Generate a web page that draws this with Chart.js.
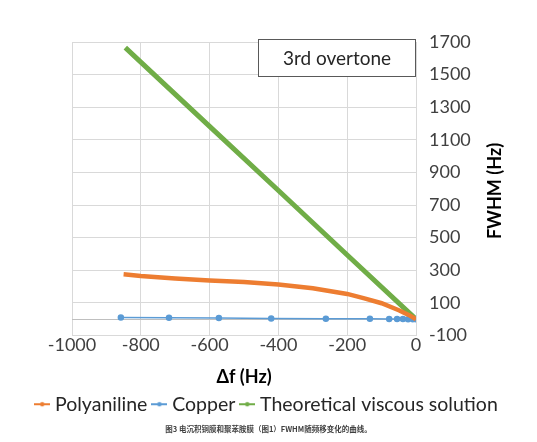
<!DOCTYPE html>
<html><head><meta charset="utf-8">
<script src="https://cdn.jsdelivr.net/npm/chart.js@4"></script>
<style>
html,body{margin:0;padding:0;background:#fff;}
#wrap{position:relative;width:537px;height:442px;}
#cap{position:absolute;left:0;width:537px;top:423px;text-align:center;font:bold 7.5px "Noto Sans CJK SC",sans-serif;color:#404040;}
</style></head><body>
<div id="wrap"><canvas id="c" width="537" height="442"></canvas>
<div id="cap">图3 电沉积铜膜和聚苯胺膜（图1）FWHM随频移变化的曲线。</div></div>
<script>
// Data
const polyanilineDf   = [-850,-800,-700,-600,-500,-400,-300,-200,-150,-100,-50,-20,0];
const polyanilineFwhm = [275, 265, 250, 238, 228, 213, 190, 155, 128, 98, 55, 25, 0];
const copperDf   = [-858,-718,-573,-421,-262,-134,-78,-55,-38,-23,-9,0];
const copperFwhm = [10, 9, 7, 5, 3, 2, 1, 1, 1, 0, 0, 0];
const theoryDf   = [-845,-800,-600,-400,-200,0];
const theoryFwhm = [1665,1577,1183,789,394,0];
const xTicks = [-1000,-800,-600,-400,-200,0];
const yTicks = [-100,100,300,500,700,900,1100,1300,1500,1700];
const seriesNames = ['Polyaniline','Copper','Theoretical viscous solution'];
const colors = ['#ED7D31','#5B9BD5','#70AD47'];
const FONT = 'Lato, "Open Sans", sans-serif';

const toPts = (xs, ys) => xs.map((x,i)=>({x, y: ys[i]}));

function legendIcon(color){
  const c = document.createElement('canvas');
  c.width = 16; c.height = 10;
  const g = c.getContext('2d');
  g.strokeStyle = color; g.lineWidth = 2;
  g.beginPath(); g.moveTo(0,5); g.lineTo(16,5); g.stroke();
  g.fillStyle = color; g.beginPath(); g.arc(8,5,2.2,0,Math.PI*2); g.fill();
  return c;
}
const icons = colors.map(legendIcon);

const extras = {
  id: 'extras',
  beforeDatasetsDraw(chart){
    const {ctx, chartArea:a, scales:{y}} = chart;
    const y0 = y.getPixelForValue(0);
    ctx.save();
    ctx.strokeStyle = '#bfbfbf'; ctx.lineWidth = 1;
    ctx.beginPath(); ctx.moveTo(a.left, Math.round(y0)+0.5); ctx.lineTo(a.right, Math.round(y0)+0.5); ctx.stroke();
    ctx.restore();
  },
  afterDraw(chart){
    const {ctx} = chart;
    ctx.save();
    ctx.fillStyle = '#fff';
    ctx.fillRect(258.5, 39.5, 157, 37);
    ctx.strokeStyle = '#595959'; ctx.lineWidth = 1;
    ctx.strokeRect(258.5, 39.5, 157, 37);
    ctx.fillStyle = '#262626';
    ctx.font = '19px ' + FONT;
    ctx.textAlign = 'center'; ctx.textBaseline = 'middle';
    ctx.fillText('3rd overtone', 337, 58.5);
    ctx.translate(495, 191);
    ctx.rotate(-Math.PI/2);
    ctx.font = 'bold 18px ' + FONT;
    ctx.fillStyle = '#000';
    ctx.fillText('FWHM (Hz)', 0, 0);
    ctx.restore();
  }
};

new Chart(document.getElementById('c'), {
  type: 'scatter',
  data: {
    datasets: [
      {label: seriesNames[0], data: toPts(polyanilineDf, polyanilineFwhm), showLine: true,
       borderColor: colors[0], backgroundColor: colors[0], borderWidth: 4.5, pointRadius: 0},
      {label: seriesNames[1], data: toPts(copperDf, copperFwhm), showLine: true,
       borderColor: colors[1], backgroundColor: colors[1], borderWidth: 1.5, pointRadius: 2.5, pointStyle: 'circle'},
      {label: seriesNames[2], data: toPts(theoryDf, theoryFwhm), showLine: true,
       borderColor: colors[2], backgroundColor: colors[2], borderWidth: 5, pointRadius: 0}
    ]
  },
  options: {
    responsive: false, animation: false,
    layout: {padding: {left: 0, top: 42, right: 0, bottom: 18}},
    plugins: {
      tooltip: {enabled: false},
      legend: {
        position: 'bottom',
        labels: {
          usePointStyle: true, pointStyleWidth: 6, padding: 9,
          color: '#262626', font: {size: 19.5, family: FONT},
          generateLabels(chart){
            return chart.data.datasets.map((d,i)=>({
              text: d.label, pointStyle: icons[i], fillStyle: colors[i], strokeStyle: colors[i],
              lineWidth: 0, hidden: false, datasetIndex: i, fontColor: '#262626'
            }));
          }
        }
      }
    },
    scales: {
      x: {
        type: 'linear', min: -1000, max: 0,
        afterBuildTicks(s){ s.ticks = xTicks.map(v=>({value:v})); },
        grid: {color: '#d9d9d9', drawTicks: false},
        border: {display: false},
        ticks: {color: '#404040', font: {size: 18, family: FONT}, padding: -1, maxRotation: 0,
                callback: v => String(v)},
        title: {display: true, text: 'Δf (Hz)', color: '#000', font: {size: 18, weight: 'bold', family: FONT}, padding: {top: 4, bottom: -2}},
        afterFit(s){ s.height = 50; }
      },
      y: {
        type: 'linear', position: 'right', min: -100, max: 1700,
        afterBuildTicks(s){ s.ticks = yTicks.map(v=>({value:v})); },
        grid: {color: '#d9d9d9', drawTicks: false},
        border: {display: false},
        ticks: {color: '#404040', font: {size: 18, family: FONT}, padding: 13, callback: v => String(v)},
        afterFit(s){ s.width = 121; }
      },
      leftSpace: {
        type: 'linear', position: 'left', min: 0, max: 1, display: true,
        grid: {display: false, drawTicks: false}, border: {display: false},
        ticks: {display: false},
        afterFit(s){ s.width = 72; }
      }
    }
  },
  plugins: [extras]
});
</script>
</body></html>
